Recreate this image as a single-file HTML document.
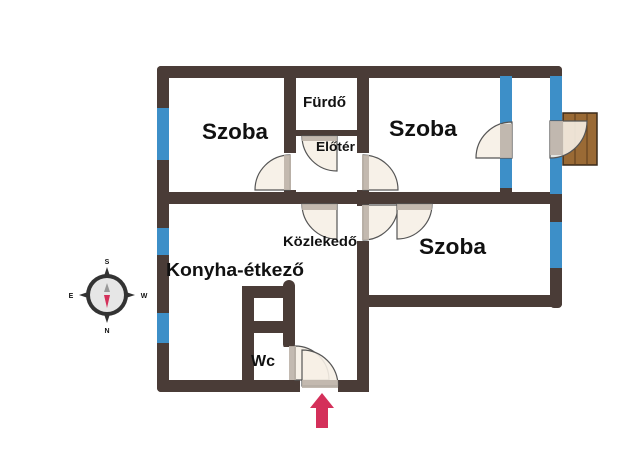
<!DOCTYPE html>
<html><head><meta charset="utf-8"><style>
html,body{margin:0;padding:0;background:#fff;}
svg{display:block}
text{font-family:"Liberation Sans",Arial,sans-serif;font-weight:bold;fill:#111}
</style></head><body>
<svg width="640" height="476" viewBox="0 0 640 476" xmlns="http://www.w3.org/2000/svg">
<rect width="640" height="476" fill="#fff"/>
<g fill="#4a3c37">
<rect x="157" y="66" width="405" height="12" rx="4"/>
<rect x="157" y="66" width="12" height="326" rx="4"/>
<rect x="550" y="66" width="12" height="242" rx="4"/>
<rect x="357" y="295" width="205" height="12" rx="3"/>
<rect x="157" y="380" width="212" height="12" rx="4"/>
<rect x="357" y="66" width="12" height="326"/>
<rect x="157" y="192" width="405" height="12"/>
<rect x="284" y="66" width="12" height="138"/>
<rect x="296" y="130" width="61" height="6"/>
<rect x="500" y="66" width="12" height="138"/>
<rect x="242" y="286" width="12" height="106"/>
<rect x="242" y="286" width="50" height="12"/>
<rect x="283" y="280" width="12" height="70" rx="6"/>
<rect x="254" y="321" width="30" height="12"/>
</g>
<g fill="#fff">
<rect x="284" y="153" width="12" height="37"/>
<rect x="357" y="153" width="12" height="37"/>
<rect x="357" y="206" width="12" height="35"/>
<rect x="283" y="347" width="12" height="33"/>
<rect x="300" y="380" width="38" height="12"/>
</g>
<g fill="#3d8fc8">
<rect x="157" y="108" width="12" height="52"/>
<rect x="157" y="228" width="12" height="27"/>
<rect x="157" y="313" width="12" height="30"/>
<rect x="500" y="76" width="12" height="112"/>
<rect x="550" y="76" width="12" height="118"/>
<rect x="550" y="222" width="12" height="46"/>
</g>
<rect x="563" y="113" width="34" height="52" fill="#9a6a35" stroke="#3a2a1a" stroke-width="1.5"/>
<line x1="575" y1="113" x2="575" y2="165" stroke="#5a3a1a"/>
<line x1="587" y1="113" x2="587" y2="165" stroke="#5a3a1a"/>
<g fill="#f6efe6" fill-opacity="0.9" stroke="#555" stroke-width="1.2">
<path d="M290,190 L290,155 A35,35 0 0 0 255,190 Z"/>
<path d="M337,136 L302,136 A35,35 0 0 0 337,171 Z"/>
<path d="M363,190 L363,155 A35,35 0 0 1 398,190 Z"/>
<path d="M337,204 L302,204 A35,35 0 0 0 337,239 Z"/>
<path d="M363,205 L363,240 A35,35 0 0 0 398,205 Z"/>
<path d="M397,204 L432,204 A35,35 0 0 1 397,239 Z"/>
<path d="M512,158 L512,122 A36,36 0 0 0 476,158 Z"/>
<path d="M550,121 L587,121 A37,37 0 0 1 550,158 Z"/>
<path d="M295,380 L295,346 A34,34 0 0 1 329,380 Z"/>
<path d="M302,386 L302,350 A36,36 0 0 1 338,386 Z"/>
</g>
<g fill="#bdb3a8" fill-opacity="0.9">
<rect x="284" y="155" width="7" height="35"/>
<rect x="302" y="136" width="35" height="5"/>
<rect x="362" y="155" width="7" height="35"/>
<rect x="302" y="204" width="35" height="6"/>
<rect x="362" y="205" width="7" height="35"/>
<rect x="397" y="204" width="35" height="6"/>
<rect x="500" y="124" width="12" height="34"/>
<rect x="550" y="121" width="13" height="34"/>
<rect x="289" y="346" width="7" height="34"/>
<rect x="302" y="380" width="36" height="8"/>
</g>
<text x="202" y="139" font-size="22" textLength="66" lengthAdjust="spacingAndGlyphs">Szoba</text>
<text x="303" y="107" font-size="15" textLength="43" lengthAdjust="spacingAndGlyphs">Fürdő</text>
<text x="316" y="151" font-size="13" textLength="39" lengthAdjust="spacingAndGlyphs">Előtér</text>
<text x="389" y="136" font-size="22" textLength="68" lengthAdjust="spacingAndGlyphs">Szoba</text>
<text x="419" y="254" font-size="22" textLength="67" lengthAdjust="spacingAndGlyphs">Szoba</text>
<text x="283" y="246" font-size="14" textLength="74" lengthAdjust="spacingAndGlyphs">Közlekedő</text>
<text x="166" y="276" font-size="18" textLength="138" lengthAdjust="spacingAndGlyphs">Konyha-étkező</text>
<text x="251" y="366" font-size="16" textLength="24" lengthAdjust="spacingAndGlyphs">Wc</text>
<path d="M322,393 L334,408 L328,408 L328,428 L316,428 L316,408 L310,408 Z" fill="#d4305a"/>
<g transform="translate(107,295)">
<path d="M0,-28 L7,-7 L28,0 L7,7 L0,28 L-7,7 L-28,0 L-7,-7 Z" fill="#333"/>
<circle r="21" fill="#333"/>
<circle r="17" fill="#e6e6e6"/>
<path d="M0,-12 L3,-3 L-3,-3 Z" fill="#999"/>
<path d="M0,13 L3,0 L-3,0 Z" fill="#d4305a"/>
<text x="0" y="-31" font-size="7" text-anchor="middle" fill="#555" font-weight="normal">S</text>
<text x="0" y="38" font-size="7" text-anchor="middle" fill="#555" font-weight="normal">N</text>
<text x="-36" y="3" font-size="7" text-anchor="middle" fill="#555" font-weight="normal">E</text>
<text x="37" y="3" font-size="7" text-anchor="middle" fill="#555" font-weight="normal">W</text>
</g>
</svg>
</body></html>
